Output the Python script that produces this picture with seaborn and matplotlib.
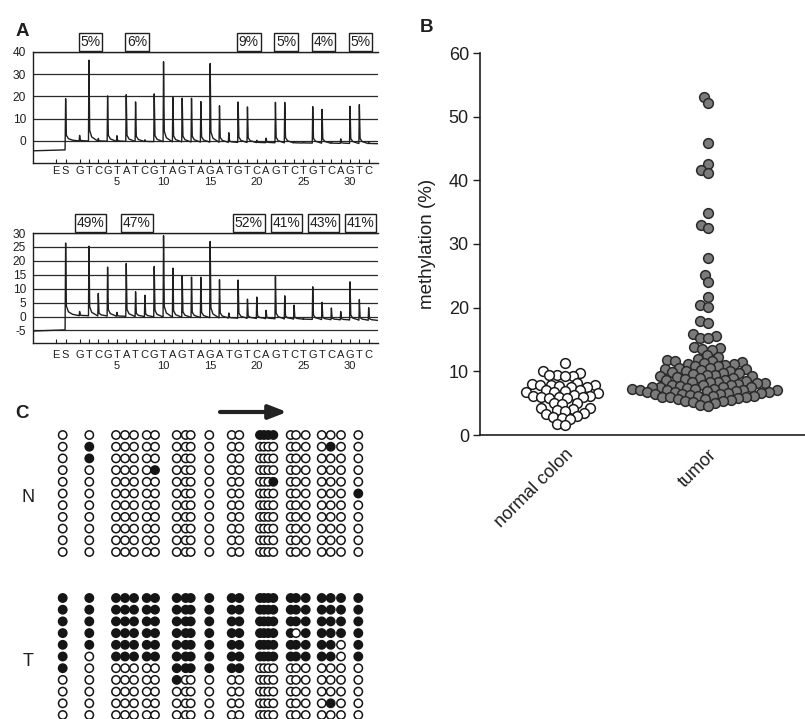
import numpy as np
import pandas as pd
import matplotlib
matplotlib.use("Agg")
import matplotlib.pyplot as plt
import seaborn as sns

sns.set_theme(style="white")
plt.rcParams['font.family'] = ['Liberation Sans', 'DejaVu Sans']

# ------------------------------------------------------------------ data
# Panel A: pyrosequencing dispensation order and peak heights
disp_letters = ["E", "S"] + list("GTCGTATCGTAGTAGATGTCAGTCTGTCAGTC")
disp_numbers = [5, 10, 15, 20, 25, 30]
peaks_normal = [0, 19, 2.5, 36.4, 1.2, 20.4, 2.5, 21, 17.8, 0.8, 21.5, 36, 20, 19.7,
                19.7, 18.2, 35.4, 16.4, 4.3, 18.2, 16, 1.0, 2.0, 18.2, 18.2, 0.6,
                0.4, 16.4, 15.2, 0.6, 2.0, 16.7, 17.5, 0.6]
peaks_tumor = [0, 26, 1.5, 25, 8.1, 17.6, 1.4, 19, 8.9, 7.7, 18.1, 29.2, 17.6, 14.9,
               14.5, 14.5, 27.4, 13.7, 1.8, 13.7, 6.9, 7.7, 3.0, 15.2, 8.3, 5.0,
               0.3, 11.7, 6.2, 4.2, 3.0, 13.7, 7.4, 4.5]
cpg_sites = [2, 7, 19, 23, 27, 31]
pct_normal = ["5%", "6%", "9%", "5%", "4%", "5%"]
pct_tumor = ["49%", "47%", "52%", "41%", "43%", "41%"]

# Panel B: methylation (%) per sample
categories = ["normal colon", "tumor"]
normal_vals = [11.3,
               10.0, 9.8, 9.4, 9.4, 9.3, 9.2,
               8.2, 8.0, 7.9, 7.9, 7.8, 7.7, 7.6, 7.6,
               7.1, 7.0, 6.9, 6.8, 6.7, 6.6,
               6.3, 6.2, 6.1, 6.0, 6.0, 5.9, 5.8, 5.8,
               5.1, 5.0, 4.9,
               4.3, 4.2, 4.1, 3.9, 3.8, 3.5, 3.3,
               3.0, 2.8, 2.7, 2.5,
               1.8, 1.6]
tumor_vals = [53.1, 52.1, 45.9, 42.6, 41.6, 41.1, 34.8, 33.0, 32.5, 27.8, 25.1, 24.0,
              21.7, 20.4, 20.1, 17.9, 17.6, 15.8, 15.5, 15.3, 15.2, 13.9, 13.7, 13.5,
              13.4,
              12.6, 12.3, 12.0, 11.8, 11.7, 11.6, 11.5, 11.3, 11.2, 11.1, 11.0, 10.9,
              10.8, 10.6,
              10.5, 10.4, 10.3, 10.2, 10.1, 10.0, 9.9, 9.8, 9.7, 9.6, 9.5, 9.4, 9.3,
              9.2, 9.1, 9.0,
              8.9, 8.8, 8.7, 8.6, 8.5, 8.4, 8.4, 8.3, 8.2, 8.1, 8.0, 7.9, 7.9, 7.8,
              7.7, 7.6, 7.6, 7.5, 7.5, 7.4, 7.3, 7.3, 7.2, 7.1, 7.1, 7.0, 7.0, 6.9,
              6.9, 6.8,
              6.7, 6.7, 6.6, 6.6, 6.5, 6.5, 6.4, 6.3, 6.2, 6.2, 6.1, 6.0,
              5.9, 5.9, 5.8, 5.7, 5.6, 5.5, 5.4, 5.3, 5.2, 5.0, 4.7, 4.6]

# Panel C: bisulfite clones (1 = methylated CpG), 24 CpG sites, 11 clones each
clones_N = ["000000000000011110000000",
            "010000000000000000000100",
            "010000000000000000000000",
            "000000100000000000000000",
            "000000000000000010000000",
            "000000000000000000000001",
            "000000000000000000000000",
            "000000000000000000000000",
            "000000000000000000000000",
            "000000000000000000000000",
            "000000000000000000000000"]
clones_T = ["111111111111111111111111",
            "111111111111111111111111",
            "111111111111111111111111",
            "111111111111111111011111",
            "111111111111111111111101",
            "101111111111111111111101",
            "100000011111100000000000",
            "000000010000000000000000",
            "000000000000000000000000",
            "000000000000000000000100",
            "000000000000000000000000"]

# ------------------------------------------------------------------ layout
W, H = 805, 719
fig = plt.figure(figsize=(W / 100, H / 100), dpi=100)
fig.patch.set_facecolor("white")
INK = "#1f1f1f"

disp_x = [-1.5, -0.5] + list(range(1, 33))
XMIN, XMAX = -4.0, 33.0


def box(l, t, r, b):
    return [l / W, 1 - b / H, (r - l) / W, (b - t) / H]


def pyrogram(ax, heights, pcts, ylim, yticks, pre, post0, post1, letter_pad, num_y):
    xS = disp_x[1]

    def base(x):
        return post0 + (post1 - post0) * (x - xS) / (XMAX - xS)

    tx, ty = [XMIN + 0.05, xS - 0.06], [pre, pre + 0.4]
    for x, h in zip(disp_x[1:], heights[1:]):
        b = base(x)
        tx += [x - 0.05, x, x + 0.08, x + 0.3, x + 0.75]
        ty += [b, b + h, b + 0.13 * h, b + 0.05 * h, b + 0.015 * h]
    tx.append(XMAX)
    ty.append(base(XMAX))
    for yv in yticks:
        ax.axhline(yv, color="#2a2a2a", lw=0.9, zorder=1)
    sns.lineplot(x=tx, y=ty, sort=False, estimator=None, ax=ax, color=INK, lw=1.0, zorder=3)
    ax.set_xlim(XMIN, XMAX)
    ax.set_ylim(*ylim)
    ax.set_yticks(yticks)
    ax.set_yticklabels([str(v) for v in yticks])
    ax.set_xticks(disp_x)
    ax.set_xticklabels(disp_letters)
    ax.tick_params(axis="x", direction="in", length=3, width=0.8, pad=letter_pad,
                   labelsize=8, colors=INK, bottom=True)
    ax.tick_params(axis="y", length=0, pad=5, labelsize=8.6, colors=INK)
    for s in ["left", "bottom", "top"]:
        ax.spines[s].set_visible(True)
        ax.spines[s].set_color(INK)
        ax.spines[s].set_linewidth(1.0)
    ax.spines["right"].set_visible(False)
    ax.set_xlabel("")
    ax.set_ylabel("")
    tr = ax.get_xaxis_transform()
    for n in disp_numbers:
        ax.text(n, num_y, str(n), transform=tr, ha="center", va="center", fontsize=8, color=INK)
    for p, t in zip(cpg_sites, pcts):
        ax.text(p + 0.15, 1.09, t, transform=tr, ha="center", va="center", fontsize=10,
                color=INK, clip_on=False,
                bbox=dict(boxstyle="square,pad=0.12", fc="white", ec=INK, lw=1.0))


axA1 = fig.add_axes(box(33, 52, 378, 163))
pyrogram(axA1, peaks_normal, pct_normal, (-10, 40), [0, 10, 20, 30, 40], -4.5, 0.0, -1.3,
         2.0, -0.175)
axA2 = fig.add_axes(box(33, 233, 378, 343))
pyrogram(axA2, peaks_tumor, pct_tumor, (-9.5, 30), [-5, 0, 5, 10, 15, 20, 25, 30], -5.2,
         0.4, -1.4, 5.0, -0.21)

# ------------------------------------------------------------------ panel B
axB = fig.add_axes(box(480, 53, 805, 435))
X_NORMAL, X_TUMOR = 0.0, 0.6
SWARM_SIZE = 4.3      # spacing used by the swarm layout (points overlap as in GraphPad)
DRAW_SIZE = 7.0       # size the markers are finally drawn with
sns.swarmplot(x=np.full(len(normal_vals), X_NORMAL), y=normal_vals, native_scale=True,
              orient="v", ax=axB, size=SWARM_SIZE, color="white", edgecolor="#1c1c1c",
              linewidth=1.1, warn_thresh=1.0)
sns.swarmplot(x=np.full(len(tumor_vals), X_TUMOR), y=tumor_vals, native_scale=True,
              orient="v", ax=axB, size=SWARM_SIZE, color="#7b7b7b", edgecolor="#2a2a2a",
              linewidth=1.1, warn_thresh=1.0)
axB.set_xlim(-0.357, 1.007)
axB.set_ylim(0, 60)
axB.set_yticks(range(0, 61, 10))
axB.set_xticks([X_NORMAL, X_TUMOR])
axB.set_xticklabels(categories, rotation=45, ha="right", rotation_mode="anchor")
axB.tick_params(axis="y", direction="out", length=5, width=1, labelsize=13, colors=INK,
                left=True, pad=3)
axB.tick_params(axis="x", length=0, labelsize=13, colors=INK, pad=8)
axB.set_ylabel("methylation (%)", fontsize=13.5, color=INK, labelpad=9)
axB.set_xlabel("")
for s in ["top", "right"]:
    axB.spines[s].set_visible(False)
for s in ["left", "bottom"]:
    axB.spines[s].set_color(INK)
    axB.spines[s].set_linewidth(1.2)
axB.set_facecolor("none")

# ------------------------------------------------------------------ panel C (overlay)
axC = fig.add_axes([0, 0, 1, 1])
axC.set_xlim(0, W)
axC.set_ylim(H, 0)
axC.axis("off")
axC.patch.set_alpha(0)

site_x = [62.7, 89.3, 116, 125, 134, 146.7, 155, 176.7, 185.7, 190.7, 209.3, 231.7,
          239.3, 260, 264, 268.3, 273.3, 290.7, 296, 305.7, 321.7, 330.7, 341, 358.3]
rows = []
for block, y0 in ((clones_N, 435.0), (clones_T, 598.0)):
    for r, line in enumerate(block):
        for sx, ch in zip(site_x, line):
            rows.append({"x": sx, "y": y0 + r * 11.7, "m": "meth" if ch == "1" else "un"})
dfC = pd.DataFrame(rows)
sns.scatterplot(data=dfC, x="x", y="y", hue="m", palette={"meth": "#151515", "un": "white"},
                s=36, edgecolor="#151515", linewidth=1.1, legend=False, ax=axC)
axC.set_xlim(0, W)
axC.set_ylim(H, 0)
axC.axis("off")
axC.annotate("", xy=(287, 412), xytext=(220, 412),
             arrowprops=dict(arrowstyle="-|>,head_length=0.9,head_width=0.35", lw=3,
                             color="#222222", shrinkA=0, shrinkB=0))

for txt, x, y, w in (("A", 22, 32, "bold"), ("B", 426, 28, "bold"), ("C", 22, 413, "bold"),
                     ("N", 28, 497, "normal"), ("T", 28, 662, "normal")):
    axC.text(x, y, txt, fontsize=13.5 if w == "bold" else 13, fontweight=w, color=INK,
             ha="center", va="center")

# compute the swarm layout once with the tighter spacing, then freeze it and
# draw the markers at their final (overlapping) size
fig.canvas.draw()
for coll in axB.collections:
    if "draw" in coll.__dict__:
        del coll.__dict__["draw"]
    coll.set_sizes([DRAW_SIZE ** 2])

fig.savefig("out.png", dpi=100, facecolor="white")
